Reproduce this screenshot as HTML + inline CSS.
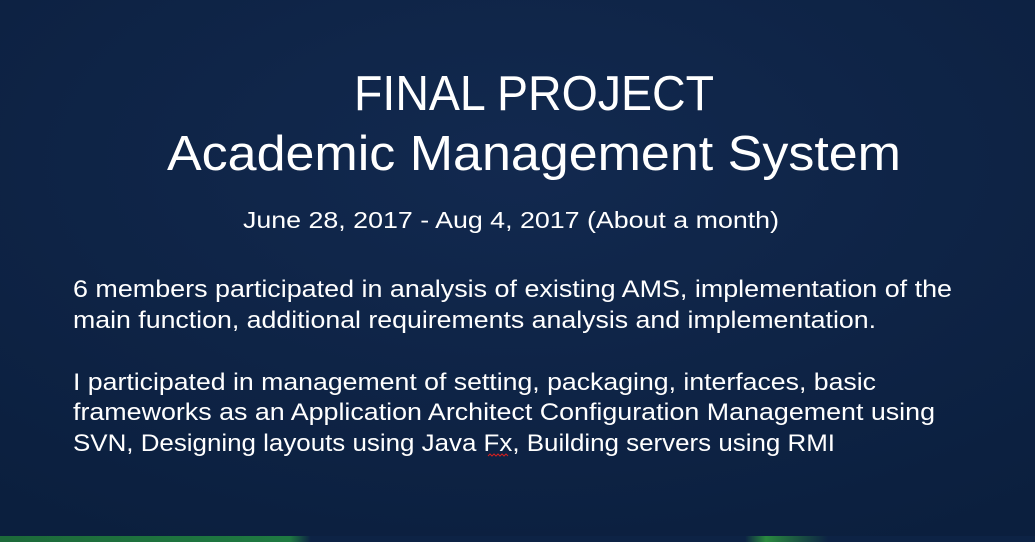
<!DOCTYPE html>
<html><head><meta charset="utf-8"><style>
html,body{margin:0;padding:0;width:1035px;height:542px;overflow:hidden;background:#0d2345}
svg{display:block}
text{font-family:"Liberation Sans","DejaVu Sans",sans-serif;fill:#fff}
</style></head><body>
<svg width="1035" height="542" viewBox="0 0 1035 542">
<defs>
<radialGradient id="g1" cx="0.5" cy="0.3" r="0.8">
<stop offset="0" stop-color="#12294f"/><stop offset="1" stop-color="#0b1f3e"/>
</radialGradient>
<linearGradient id="gr" x1="0" y1="0" x2="1" y2="0">
<stop offset="0" stop-color="#1d6a3a"/><stop offset="0.28" stop-color="#1f7a42"/><stop offset="0.3" stop-color="#0d2345"/>
<stop offset="0.72" stop-color="#0d2345"/><stop offset="0.74" stop-color="#2a8a3f"/><stop offset="0.8" stop-color="#0d2345"/><stop offset="1" stop-color="#0d2345"/>
</linearGradient>
</defs>
<rect width="1035" height="542" fill="url(#g1)"/>
<rect x="0" y="536" width="1035" height="6" fill="url(#gr)"/>
<text x="534" y="110" font-size="49" text-anchor="middle" textLength="360" lengthAdjust="spacingAndGlyphs">FINAL PROJECT</text>
<text x="534" y="170" font-size="49" text-anchor="middle" textLength="734" lengthAdjust="spacingAndGlyphs">Academic Management System</text>
<text x="243" y="228" font-size="23" textLength="536" lengthAdjust="spacingAndGlyphs">June 28, 2017 - Aug 4, 2017 (About a month)</text>
<text x="73" y="297" font-size="24" textLength="879" lengthAdjust="spacingAndGlyphs">6 members participated in analysis of existing AMS, implementation of the</text>
<text x="73" y="328" font-size="24" textLength="803" lengthAdjust="spacingAndGlyphs">main function, additional requirements analysis and implementation.</text>
<text x="73" y="390" font-size="24" textLength="803" lengthAdjust="spacingAndGlyphs">I participated in management of setting, packaging, interfaces, basic</text>
<text x="73" y="420" font-size="24" textLength="862" lengthAdjust="spacingAndGlyphs">frameworks as an Application Architect Configuration Management using</text>
<text x="73" y="451" font-size="24" textLength="762" lengthAdjust="spacingAndGlyphs">SVN, Designing layouts using Java Fx, Building servers using RMI</text>
<polyline points="488,456 490,454 492,456 494,454 496,456 498,454 500,456 502,454 504,456 506,454 508,456" fill="none" stroke="#d02020" stroke-width="1"/>
</svg>
</body></html>
